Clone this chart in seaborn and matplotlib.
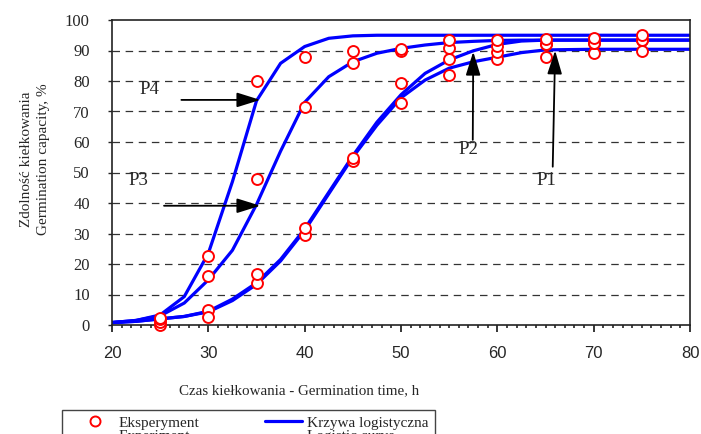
import numpy as np
import pandas as pd
import matplotlib
matplotlib.use("Agg")
import matplotlib.pyplot as plt
from matplotlib.lines import Line2D
from matplotlib.patches import Rectangle
import seaborn as sns

# experiment points (time, h) and germination capacity (%)
exp_time = [25, 30, 35, 40, 45, 50, 55, 60, 65, 70, 75]
exp_p4 = [2.3, 22.6, 80.0, 88.0, 90.0, 90.5, 93.4, 93.4, 93.8, 94.2, 95.1]
exp_p3 = [1.9, 16.0, 47.8, 71.6, 85.8, 90.0, 90.9, 91.6, 92.0, 92.3, 93.4]
exp_p2 = [1.0, 2.5, 16.7, 31.9, 54.6, 79.2, 87.1, 89.6, 92.0, 92.3, 93.4]
exp_p1 = [0.0, 4.9, 13.7, 29.5, 53.9, 72.8, 82.0, 87.1, 88.0, 89.3, 89.8]

# logistic curves
curve_time = [20, 22.5, 25, 27.5, 30, 32.5, 35, 37.5, 40, 42.5, 45, 47.5,
              50, 52.5, 55, 57.5, 60, 62.5, 65, 70, 75, 80]
curve_p4 = [0.8, 1.5, 3.3, 9.3, 23.5, 47.0, 73.5, 85.8, 91.3, 94.0, 94.8, 95.0,
            95.0, 95.0, 95.0, 95.0, 95.0, 95.0, 95.0, 95.0, 95.0, 95.0]
curve_p3 = [0.8, 1.5, 3.0, 7.2, 14.8, 24.5, 39.5, 57.0, 73.0, 81.4, 86.3, 89.1,
            90.7, 91.8, 92.6, 93.0, 93.3, 93.4, 93.4, 93.4, 93.4, 93.4]
curve_p2 = [0.8, 1.2, 2.0, 2.8, 4.5, 8.5, 13.8, 21.5, 31.5, 43.5, 55.5, 66.5,
            75.5, 82.5, 86.9, 89.9, 92.0, 93.1, 93.4, 93.4, 93.4, 93.4]
curve_p1 = [0.8, 1.2, 2.0, 2.8, 4.3, 8.0, 13.3, 21.0, 31.0, 43.0, 55.0, 65.5,
            74.5, 80.3, 84.2, 86.3, 87.8, 89.3, 90.2, 90.4, 90.4, 90.4]

series = ["P1", "P2", "P3", "P4"]

curves = pd.concat([
    pd.DataFrame({"time": curve_time, "value": v, "series": s})
    for s, v in zip(series, [curve_p1, curve_p2, curve_p3, curve_p4])
])
points = pd.concat([
    pd.DataFrame({"time": exp_time, "value": v, "series": s})
    for s, v in zip(series, [exp_p1, exp_p2, exp_p3, exp_p4])
])

sns.set_theme(style="white")
plt.rcParams["font.family"] = ["Liberation Serif", "DejaVu Serif"]

W, H = 701, 434
fig = plt.figure(figsize=(W / 100, H / 100), dpi=100)
ax = fig.add_axes([112 / W, 1 - 325 / H, 578 / W, 305 / H])

for y in range(10, 100, 10):
    ax.axhline(y, color="#333333", lw=0.9, ls=(0, (6, 4.5)), zorder=0)

sns.lineplot(data=curves, x="time", y="value", units="series", estimator=None,
             sort=False, color="#0000ff", lw=2.3, ax=ax, legend=False, zorder=2)
sns.scatterplot(data=points, x="time", y="value", marker="o", s=62,
                facecolor="white", edgecolor="red", linewidth=1.4,
                ax=ax, legend=False, zorder=3, clip_on=False)

ax.set_xlim(20, 80)
ax.set_ylim(0, 100)
ax.set_xticks(range(20, 81, 10))
ax.set_xticks(range(20, 81, 1), minor=True)
ax.set_yticks(range(0, 101, 10))
for lbl in ax.get_xticklabels():
    lbl.set_fontfamily("Liberation Sans")
ax.tick_params(axis="x", which="major", direction="out", length=5, width=1.3,
               pad=10, labelsize=12, bottom=True)
ax.tick_params(axis="x", which="minor", direction="out", length=2, width=1.2,
               bottom=True)
ax.tick_params(axis="y", which="major", direction="out", length=3, width=1,
               pad=13, labelsize=12, left=True)
for sp in ax.spines.values():
    sp.set_color("#222222")
    sp.set_linewidth(1.2)

ax.set_xlabel("Czas kiełkowania - Germination time, h", fontsize=10.8)
ax.xaxis.set_label_coords((299 - 112) / 578, -(384 - 325) / 305)
ax.set_ylabel("Zdolność kiełkowania\nGermination capacity, %", fontsize=11,
              linespacing=1.38)
ax.yaxis.set_label_coords(-(112 - 50) / 578, (325 - 159) / 305)

arrow = dict(arrowstyle="-|>,head_length=0.8,head_width=0.25",
             mutation_scale=18, color="black", lw=1.3, shrinkA=0, shrinkB=0)
ax.annotate("", xy=(35.4, 73.8), xytext=(27.2, 73.8), arrowprops=arrow)
ax.annotate("", xy=(35.4, 39.1), xytext=(25.4, 39.1), arrowprops=arrow)
ax.annotate("", xy=(57.5, 89.6), xytext=(57.45, 60.7), arrowprops=arrow)
ax.annotate("", xy=(66.0, 90.0), xytext=(65.75, 51.9), arrowprops=arrow)
for txt, x, y in [("P4", 23.9, 77.3), ("P3", 22.7, 47.5),
                  ("P2", 57.0, 57.6), ("P1", 65.1, 47.5)]:
    ax.text(x, y, txt, fontsize=13.5, ha="center", va="center")

# legend frame, cut by the bottom edge as in the source
fig.patches.append(Rectangle((62 / W, 1 - 470 / H), (435 - 62) / W, 60 / H,
                             transform=fig.transFigure, fill=False,
                             edgecolor="#444444", lw=1.0))
blank = Line2D([], [], ls="none")
mark = Line2D([], [], ls="none", marker="o", mfc="white", mec="red", ms=7.2, mew=1.4)
line = Line2D([], [], color="#0000ff", lw=2.3)
leg_kw = dict(loc="upper left", borderaxespad=0, borderpad=0, frameon=False,
              fontsize=11, handlelength=2.42, handletextpad=0.3, labelspacing=0.0)
fig.legend([mark, blank], ["Eksperyment", "Experiment"],
           bbox_to_anchor=(76.5 / W, 1 - 416 / H), **leg_kw)
fig.legend([line, blank], ["Krzywa logistyczna", "Logistic curve"],
           bbox_to_anchor=(265 / W, 1 - 416 / H), **leg_kw)

fig.savefig("out.png", dpi=100)
